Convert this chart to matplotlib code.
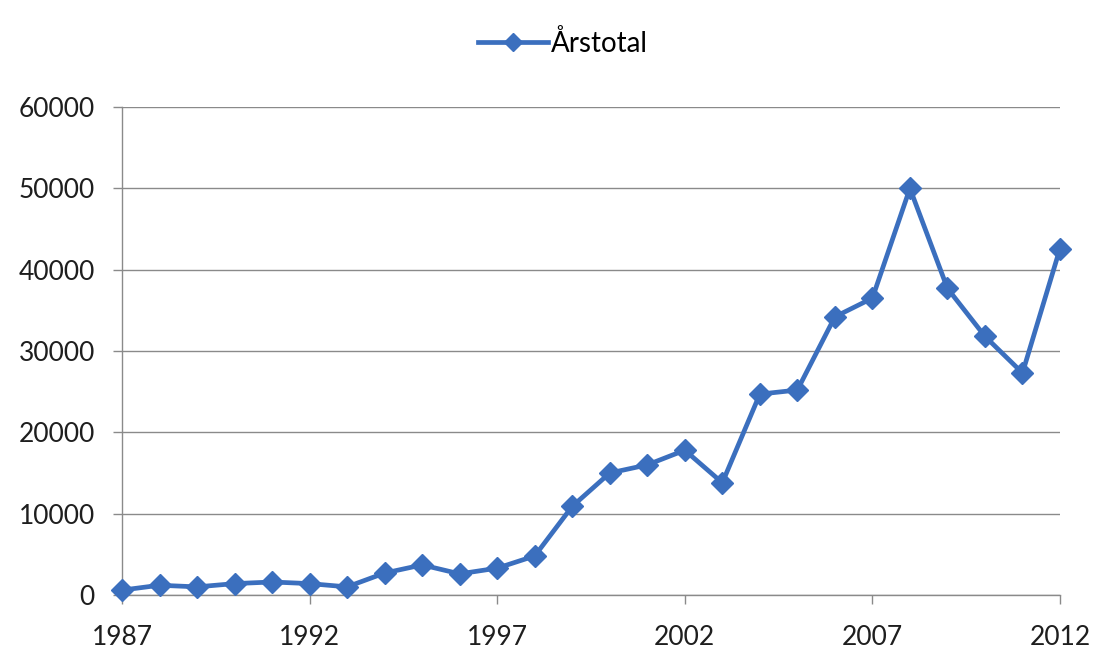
import matplotlib
matplotlib.use("Agg")
import matplotlib.pyplot as plt
from matplotlib.lines import Line2D

years = list(range(1987, 2013))
values = [600, 1200, 1000, 1400, 1600, 1400, 1000, 2700, 3700, 2600, 3300, 4800,
          10900, 15000, 16000, 17800, 13800, 24700, 25200, 34200, 36500, 50000,
          37700, 31800, 27300, 42600]
series_name = "Årstotal"
xticks = [1987, 1992, 1997, 2002, 2007, 2012]
yticks = [0, 10000, 20000, 30000, 40000, 50000, 60000]

plt.rcParams['font.family'] = ['Lato', 'DejaVu Sans']

fig = plt.figure(figsize=(11, 6.55), dpi=100)
ax = fig.add_axes([122/1100, 1-595/655, (1060-122)/1100, (595-107)/655])

blue = "#3B6FBE"
grey = "#8A8A8A"
ax.plot(years, values, color=blue, lw=3.4, marker='D', markersize=11.5,
        markerfacecolor=blue, markeredgecolor=blue, clip_on=False, zorder=3)

ax.set_xlim(1987, 2012)
ax.set_ylim(0, 60000)
ax.set_xticks(xticks)
ax.set_yticks(yticks)
ax.set_xticklabels([str(x) for x in xticks])
ax.set_yticklabels([str(y) for y in yticks])
ax.grid(axis='y', color=grey, lw=1.0)
ax.set_axisbelow(True)
for s in ['top', 'right']:
    ax.spines[s].set_visible(False)
for s in ['left', 'bottom']:
    ax.spines[s].set_color(grey)
    ax.spines[s].set_linewidth(1.0)
ax.tick_params(axis='both', direction='out', colors=grey, labelcolor='#1e1e1e',
               labelsize=19, length=6.5, width=1.0)
ax.tick_params(axis='y', pad=13)
ax.tick_params(axis='x', pad=15)

handle = Line2D([], [], color=blue, lw=3.4, marker='D', markersize=9,
                markerfacecolor=blue, markeredgecolor=blue)
fig.legend([handle], [series_name], loc='center', bbox_to_anchor=(563/1100, 1-43/655),
           frameon=False, fontsize=20, handlelength=2.5, handletextpad=0.1)

fig.savefig("out.png", dpi=100, facecolor='white')
